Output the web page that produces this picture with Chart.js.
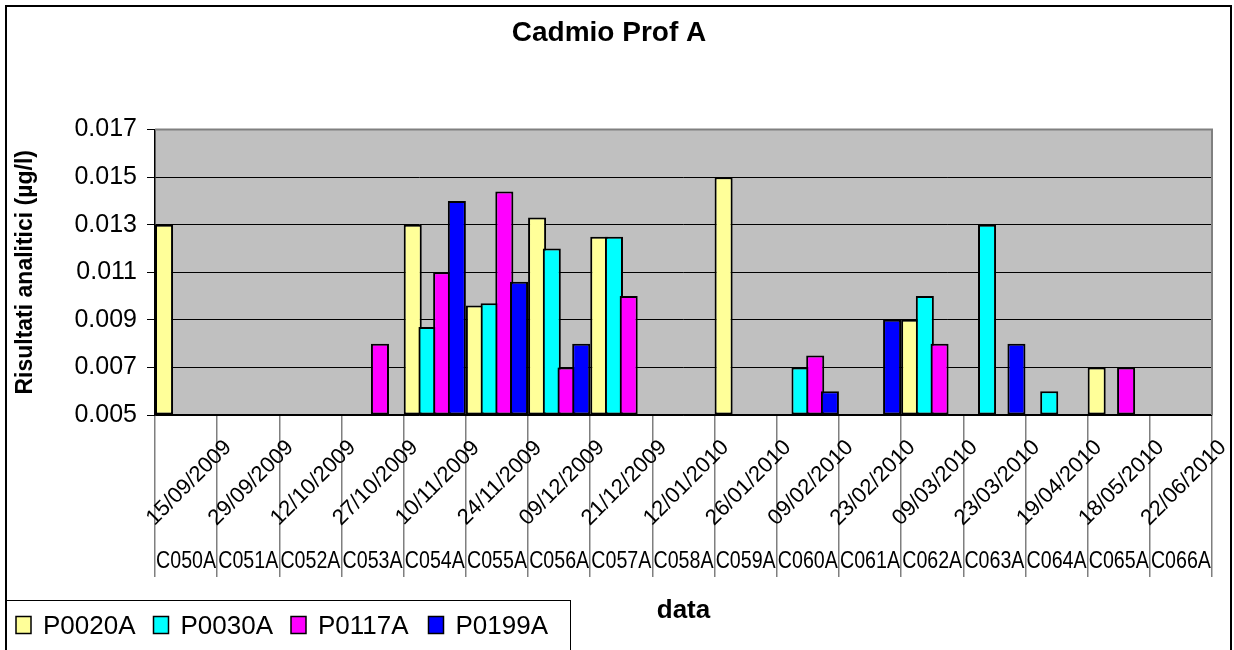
<!DOCTYPE html>
<html><head><meta charset="utf-8">
<style>html,body{margin:0;padding:0;background:#fff;}canvas{display:block;}</style>
<script src="https://cdn.jsdelivr.net/npm/chart.js@4.4.1/dist/chart.umd.min.js"></script>
</head><body>
<canvas id="c" width="1234" height="650"></canvas>
<script>
const codes = ['C050A','C051A','C052A','C053A','C054A','C055A','C056A','C057A','C058A','C059A','C060A','C061A','C062A','C063A','C064A','C065A','C066A'];
const dates = ['15/09/2009','29/09/2009','12/10/2009','27/10/2009','10/11/2009','24/11/2009','09/12/2009','21/12/2009','12/01/2010','26/01/2010','09/02/2010','23/02/2010','09/03/2010','23/03/2010','19/04/2010','18/05/2010','22/06/2010'];
const seriesNames = ['P0020A','P0030A','P0117A','P0199A'];
const seriesColors = ['#FFFF99','#00FFFF','#FF00FF','#0000FF'];
const p0020A = [0.013,null,null,null,0.013,0.0096,0.0133,0.0125,null,0.015,null,null,0.009,null,null,0.007,null];
const p0030A = [null,null,null,null,0.0087,0.0097,0.012,0.0125,null,null,0.007,null,0.010,0.013,0.006,null,null];
const p0117A = [null,null,null,0.008,0.011,0.0144,0.007,0.010,null,null,0.0075,null,0.008,null,null,0.007,null];
const p0199A = [null,null,null,null,0.014,0.0106,0.008,null,null,null,0.006,0.009,null,0.008,null,null,null];
const yMin = 0.005, yMax = 0.017, yStep = 0.002;
const chartTitle = 'Cadmio Prof A';
const yTitle = 'Risultati analitici (µg/l)';
const xTitle = 'data';

const FONT = "'Liberation Sans', Arial, sans-serif";
Chart.defaults.font.family = FONT;
Chart.defaults.color = '#000';

const seriesData = [p0020A, p0030A, p0117A, p0199A];

const excelPlugin = {
  id: 'excelLook',
  beforeDraw(chart) {
    const {ctx, chartArea: a} = chart;
    ctx.save();
    ctx.fillStyle = '#fff';
    ctx.fillRect(0, 0, chart.width, chart.height);
    ctx.fillStyle = '#C0C0C0';
    ctx.fillRect(a.left, a.top, a.right - a.left, a.bottom - a.top);
    ctx.restore();
  },
  beforeDatasetsDraw(chart) {
    const {ctx, chartArea: a} = chart;
    ctx.save();
    ctx.strokeStyle = '#808080';
    ctx.lineWidth = 2;
    ctx.beginPath();
    ctx.moveTo(a.left, a.top);
    ctx.lineTo(a.right, a.top);
    ctx.lineTo(a.right, a.bottom);
    ctx.stroke();
    ctx.restore();
    // draw series left to right so later series overlap earlier ones (Excel overlap)
    ctx.save();
    ctx.beginPath();
    ctx.rect(a.left, a.top - 3, a.right - a.left, a.bottom - a.top + 4);
    ctx.clip();
    chart.getSortedVisibleDatasetMetas().forEach(m => m.controller.draw());
    ctx.restore();
    return false;
  },
  afterDraw(chart) {
    const {ctx} = chart;
    const xs = chart.scales.x;
    ctx.save();
    ctx.fillStyle = '#000';
    for (let i = 0; i < codes.length; i++) {
      const cx = xs.getPixelForValue(i);
      ctx.save();
      ctx.translate(cx + 3, 483);
      ctx.rotate(-Math.PI / 4);
      ctx.font = '22px ' + FONT;
      ctx.textAlign = 'center';
      ctx.textBaseline = 'middle';
      ctx.fillText(dates[i], 0, 0);
      ctx.restore();
      ctx.font = '23px ' + FONT;
      ctx.textAlign = 'center';
      ctx.textBaseline = 'alphabetic';
      ctx.fillText(codes[i], cx, 568, 60);
    }
    // legend
    ctx.strokeStyle = '#000';
    ctx.lineWidth = 1;
    ctx.strokeRect(6.5, 600.5, 564, 70);
    chart.data.datasets.forEach((ds, i) => {
      const x0 = 16 + i * 137.5;
      ctx.fillStyle = ds.backgroundColor;
      ctx.fillRect(x0, 616.5, 15, 17);
      ctx.lineWidth = 1.5;
      ctx.strokeRect(x0, 616.5, 15, 17);
      ctx.fillStyle = '#000';
      ctx.font = '26px ' + FONT;
      ctx.textAlign = 'left';
      ctx.textBaseline = 'alphabetic';
      ctx.fillText(ds.label, x0 + 27, 634);
    });
    // outer chart border
    ctx.lineWidth = 2;
    ctx.strokeRect(6, 6, 1225, 670);
    ctx.restore();
  }
};

new Chart(document.getElementById('c'), {
  type: 'bar',
  data: {
    labels: codes,
    datasets: seriesNames.map((name, i) => ({
      label: name,
      data: seriesData[i],
      base: yMin,
      backgroundColor: seriesColors[i],
      borderColor: '#000',
      borderWidth: 2,
      borderSkipped: false,
      categoryPercentage: 0.946,
      barPercentage: 1.227
    }))
  },
  options: {
    responsive: false,
    animation: false,
    devicePixelRatio: 1,
    layout: {padding: {top: 0, left: 6, right: 22, bottom: 0}},
    plugins: {
      legend: {display: false},
      tooltip: {enabled: false},
      title: {
        display: true,
        text: chartTitle,
        font: {size: 28, weight: 'bold', family: FONT},
        color: '#000',
        padding: {top: 16, bottom: 80}
      }
    },
    scales: {
      x: {
        type: 'category',
        offset: true,
        ticks: {display: false},
        grid: {display: true, offset: true, drawOnChartArea: false, drawTicks: true, tickLength: 162, color: '#7f7f7f', lineWidth: 1.5},
        border: {display: true, color: '#000', width: 1.5},
        title: {display: true, text: xTitle, font: {size: 26, weight: 'bold', family: FONT}, color: '#000', padding: {top: 0, bottom: 24}},
        afterFit(scale) { scale.height = 235; }
      },
      y: {
        min: yMin,
        max: yMax,
        ticks: {stepSize: yStep, padding: 10, font: {size: 25, family: FONT}, color: '#000', callback: v => Number(v).toFixed(3)},
        grid: {color: '#000', lineWidth: 1, tickLength: 8, drawTicks: true},
        border: {display: true, color: '#000', width: 1.5},
        title: {display: true, text: yTitle, font: {size: 23, weight: 'bold', family: FONT}, color: '#000', padding: {top: 6, bottom: 0}},
        afterFit(scale) { scale.width = 149; }
      }
    }
  },
  plugins: [excelPlugin]
});
</script>
</body></html>
